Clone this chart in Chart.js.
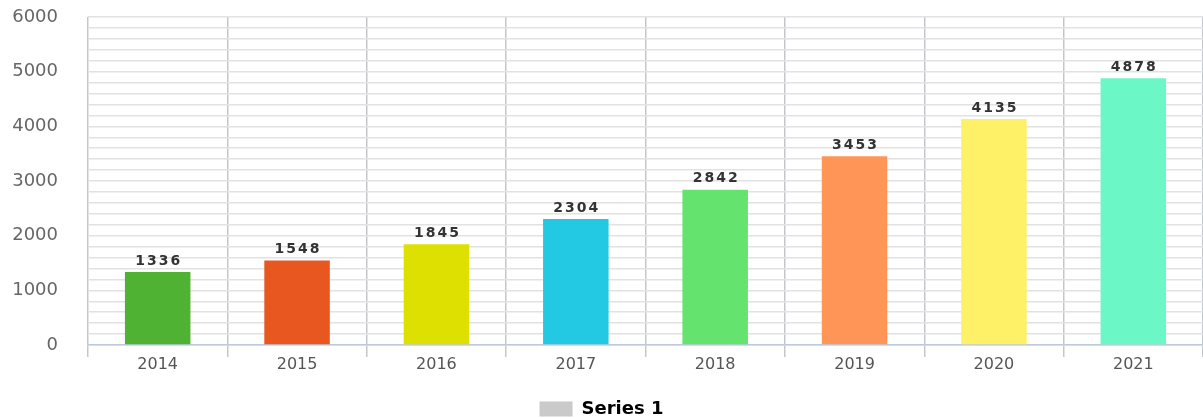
<!DOCTYPE html>
<html>
<head>
<meta charset="utf-8">
<script src="https://cdn.jsdelivr.net/npm/chart.js@4"></script>
<style>
  html, body { margin: 0; padding: 0; background: #fff; }
  #wrap { width: 1203px; height: 418px; position: relative; }
</style>
</head>
<body>
<div id="wrap"><canvas id="salesChart"></canvas></div>
<script>
const years = ["2014", "2015", "2016", "2017", "2018", "2019", "2020", "2021"];
const values = [1336, 1548, 1845, 2304, 2842, 3453, 4135, 4878];
const barColors = ["#50b232", "#e8571f", "#dde000", "#23c9e2", "#64e36f", "#ff9657", "#fff167", "#6cf8c6"];
const seriesName = "Series 1";

// draws the value above each bar, spaced out like the original
const valueLabels = {
  id: "valueLabels",
  afterDatasetsDraw(chart) {
    const ctx = chart.ctx;
    const meta = chart.getDatasetMeta(0);
    ctx.save();
    ctx.font = "bold 14px 'DejaVu Sans'";
    ctx.fillStyle = "#333";
    ctx.textAlign = "center";
    ctx.textBaseline = "bottom";
    if ("letterSpacing" in ctx) ctx.letterSpacing = "2px";
    meta.data.forEach((bar, i) => {
      ctx.fillText(String(values[i]), bar.x + 1, bar.y - 4);
    });
    ctx.restore();
  }
};

const ctx = document.getElementById("salesChart").getContext("2d");
new Chart(ctx, {
  type: "bar",
  data: {
    labels: years,
    datasets: [{
      label: seriesName,
      data: values,
      backgroundColor: barColors,
      borderWidth: 0,
      barPercentage: 0.47,
      categoryPercentage: 1
    }]
  },
  options: {
    responsive: true,
    maintainAspectRatio: false,
    animation: false,
    layout: { padding: { top: 17, right: 0, bottom: -10, left: 0 } },
    plugins: {
      tooltip: { enabled: false },
      legend: {
        position: "bottom",
        labels: {
          boxWidth: 33,
          boxHeight: 15,
          padding: 2,
          color: "#333",
          font: { family: "'DejaVu Sans'", size: 18, weight: "bold" },
          generateLabels: () => [{
            text: seriesName,
            fillStyle: "#cacaca",
            strokeStyle: "#cacaca",
            lineWidth: 0,
            datasetIndex: 0
          }]
        }
      }
    },
    scales: {
      x: {
        grid: {
          offset: true,
          color: "#c3c7cc",
          lineWidth: 1.5,
          drawTicks: true,
          tickLength: 12
        },
        border: { display: true, color: "#bccbdb", width: 1.5 },
        ticks: {
          color: "#555",
          padding: -2,
          font: { family: "'DejaVu Sans'", size: 16 }
        },
        afterFit(scale) { scale.height = 53; }
      },
      y: {
        min: 0,
        max: 6000,
        grid: { color: "#e2e2e2", lineWidth: 1.5, drawTicks: false },
        border: { display: false },
        ticks: {
          stepSize: 200,
          autoSkip: false,
          padding: 30,
          color: "#666",
          font: { family: "'DejaVu Sans'", size: 18 },
          callback: (v) => (v % 1000 === 0 ? v : "")
        },
        afterFit(scale) {
          scale.width = 88;
          scale.paddingTop = 0;
          scale.paddingBottom = 0;
        }
      }
    }
  },
  plugins: [valueLabels]
});
</script>
</body>
</html>
